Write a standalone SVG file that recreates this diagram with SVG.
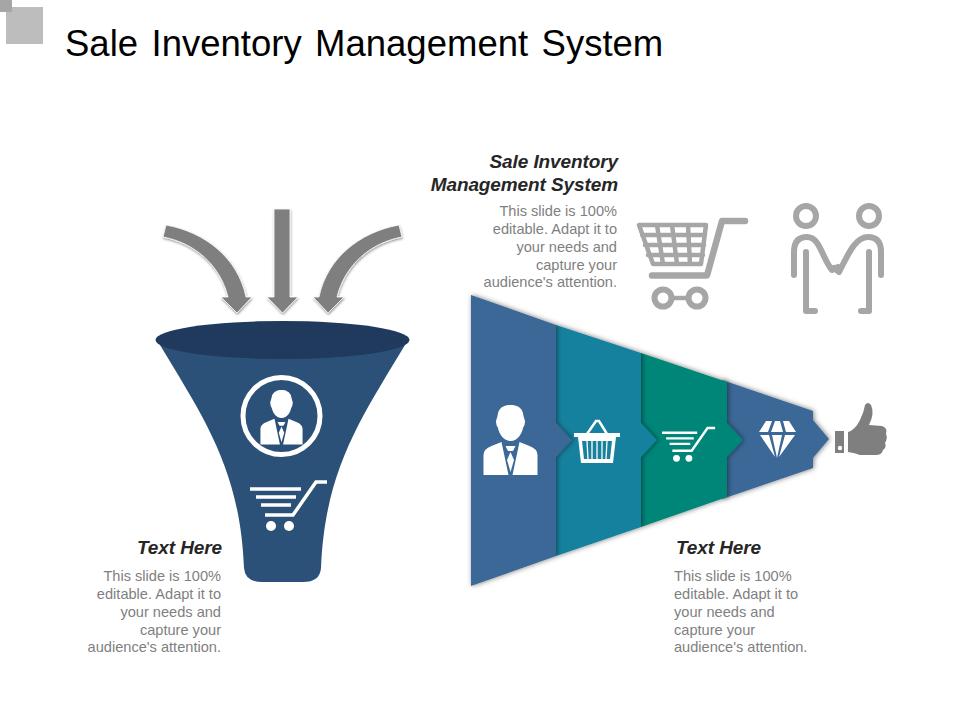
<svg xmlns="http://www.w3.org/2000/svg" width="960" height="720" viewBox="0 0 960 720">
<style>
text{font-family:"Liberation Sans",Arial,sans-serif}
.title{font-size:36.500px;fill:#000;word-spacing:3.300px}
.head{font-size:19px;font-weight:bold;font-style:italic;fill:#262626;letter-spacing:-.1px}
.body{font-size:14.600px;fill:#7f7f7f}
.r{text-anchor:end}
.w{fill:#fff}
.ws{fill:none;stroke:#fff;stroke-width:3.500}
.gs{fill:none;stroke:#a6a6a6;stroke-linecap:round;stroke-linejoin:round}
.arrow{fill:#7f7f7f;stroke:#fff;stroke-width:.8;filter:url(#ash)}
.seg{filter:url(#sh)}
</style>
<defs>
<filter id="sh" x="-20%" y="-20%" width="140%" height="140%"><feDropShadow dx="1" dy="0" stdDeviation="2.400" flood-color="#000" flood-opacity=".5"/></filter>
<filter id="ash" x="-20%" y="-20%" width="140%" height="140%"><feDropShadow dx=".5" dy="1.500" stdDeviation="1.200" flood-color="#000" flood-opacity=".4"/></filter>
<g id="person">
<ellipse class="w" cx="0" cy="0" rx="13" ry="18"/>
<path class="w" d="M-13,-7Q-12,-18 0,-18Q12,-18 13,-7L14.500,-2Q14.500,3 12,5L-12,5Q-14.500,3 -14.500,-2Z"/>
<path class="w" d="M-27,52V32Q-27,26 -19,23L-9,19L-2,52Z"/>
<path class="w" d="M27,52V32Q27,26 19,23L9,19L2,52Z"/>
<path class="w" d="M-5,23H5L2.500,28H-2.500Z"/>
<path class="w" d="M0,29L3.500,37L0,49L-3.500,37Z"/>
</g>
<g id="cart">
<path class="ws" d="M0,7H51M6,15H46M11,23H41M15,33H43L66,0H77"/>
<circle class="w" cx="21" cy="44" r="5"/><circle class="w" cx="39" cy="44" r="5"/>
</g>
</defs>

<g id="corner">
<rect x="6" y="7" width="37" height="37" fill="#bdbdbd"/>
<rect x="0" y="0" width="12" height="12" fill="#a6a6a6"/>
</g>
<text class="title" x="65" y="56">Sale Inventory Management System</text>

<g id="connectors">
<path class="arrow" d="M274,209H290V297H298L282.500,313L267,297H274Z"/>
<path class="arrow" d="M166,225C205,232 238,258 246,297L252,297L237,313L221,297L228,297C220,265 195,243 163,237Z"/>
<path class="arrow" d="M399,225C360,232 327,258 319,297L313,297L328,313L344,297L337,297C345,265 370,243 402,237Z"/>
</g>

<g id="funnel">
<path fill="#2c5178" d="M160,345C205,420 240,470 244,568Q245,582 262,582H303Q320,582 321,568C325,470 360,420 405,345Z"/>
<ellipse cx="282.500" cy="340" rx="127" ry="19" fill="#1f3a5c"/>
<circle cx="281.500" cy="416" r="38.500" fill="none" stroke="#fff" stroke-width="5"/>
<use href="#person" transform="translate(281.500,404) scale(.78)"/>
<use href="#cart" transform="translate(250,482)"/>
</g>

<g id="segment4">
<path class="seg" fill="#3b6797" d="M722,380L813,411V420L829,439L813,458V468L722,499Z"/>
<g class="w">
<path d="M759,432L766,421H772L768,432ZM771,432L775,421H780L783,432ZM786,432L783,421H789L796,432Z"/>
<path d="M760,435H769L775,457ZM772,435H782L777,458ZM785,435H795L779,457Z"/>
</g>
</g>
<g id="segment3">
<path class="seg" fill="#068678" d="M641,353L727,382V423L743,440L727,457V497L641,527Z"/>
<use href="#cart" transform="translate(662,428) scale(.69)"/>
</g>
<g id="segment2">
<path class="seg" fill="#17819e" d="M556,325L641,353V423L657,440L641,457V527L556,556Z"/>
<path d="M574,433H620V437H574ZM578,437H616L613,463H581Z" fill="#fff"/>
<path d="M582,441H612L610,459H584Z" fill="#17819e"/>
<path d="M587,441L588,459M592,441V459M597,441V459M602,441V459M607,441L606,459" stroke="#fff" stroke-width="1.300" fill="none"/>
<path d="M587,434L596,421H599L607,434" fill="none" stroke="#fff" stroke-width="2.500"/>
</g>
<g id="segment1">
<path class="seg" fill="#3b6797" d="M471,295L556,325V423L572,440L556,457V556L471,586Z"/>
<use href="#person" transform="translate(510.500,423)"/>
</g>

<g id="thumb" fill="#7f7f7f">
<path d="M835,431H844V453H835Z"/>
<circle cx="840" cy="448" r="2.200" fill="#fff"/>
<path d="M848,432Q855,430 860,420Q864,412 865,405Q868,401 871,405Q875,413 869,425L882,426Q888,428 886,434Q888,438 885,443Q887,447 883,450Q882,455 876,455L860,455Q855,453 848,452Z"/>
</g>

<g id="cart-icon">
<path class="gs" stroke-width="4.500" d="M639,225H706L701,264H653ZM642,235H705M645,245H704M648,255H703M657,225L663,264M672,225L677,264M688,225L690,264"/>
<path class="gs" stroke-width="6.500" d="M652,275.500H707L722,221H745"/>
<circle class="gs" cx="663" cy="298" r="8.500" stroke-width="6"/>
<circle class="gs" cx="697" cy="298" r="8.500" stroke-width="6"/>
<path class="gs" stroke-width="4.500" d="M671,298H689"/>
</g>

<g id="people-icon">
<g class="gs" stroke-width="6">
<circle cx="806" cy="216" r="10"/>
<circle cx="869" cy="216" r="10"/>
<path d="M794,275V252Q794,237 807,237C820,237 822,258 832,270L838,267"/>
<path d="M881,275V252Q881,237 868,237C855,237 848,255 839,272L834,268"/>
<path d="M806,252V311H815"/>
<path d="M869,252V311H861"/>
</g>
</g>

<g id="label-top">
<text class="head r" x="618" y="168">Sale Inventory</text>
<text class="head r" x="618" y="191">Management System</text>
<g class="body r">
<text x="617" y="216">This slide is 100%</text>
<text x="617" y="234">editable. Adapt it to</text>
<text x="617" y="252">your needs and</text>
<text x="617" y="270">capture your</text>
<text x="617" y="287">audience's attention.</text>
</g>
</g>
<g id="label-left">
<text class="head r" x="222" y="554">Text Here</text>
<g class="body r">
<text x="221" y="581">This slide is 100%</text>
<text x="221" y="599">editable. Adapt it to</text>
<text x="221" y="617">your needs and</text>
<text x="221" y="635">capture your</text>
<text x="221" y="652">audience's attention.</text>
</g>
</g>
<g id="label-right">
<text class="head" x="676" y="554">Text Here</text>
<g class="body">
<text x="674" y="581">This slide is 100%</text>
<text x="674" y="599">editable. Adapt it to</text>
<text x="674" y="617">your needs and</text>
<text x="674" y="635">capture your</text>
<text x="674" y="652">audience's attention.</text>
</g>
</g>
</svg>
